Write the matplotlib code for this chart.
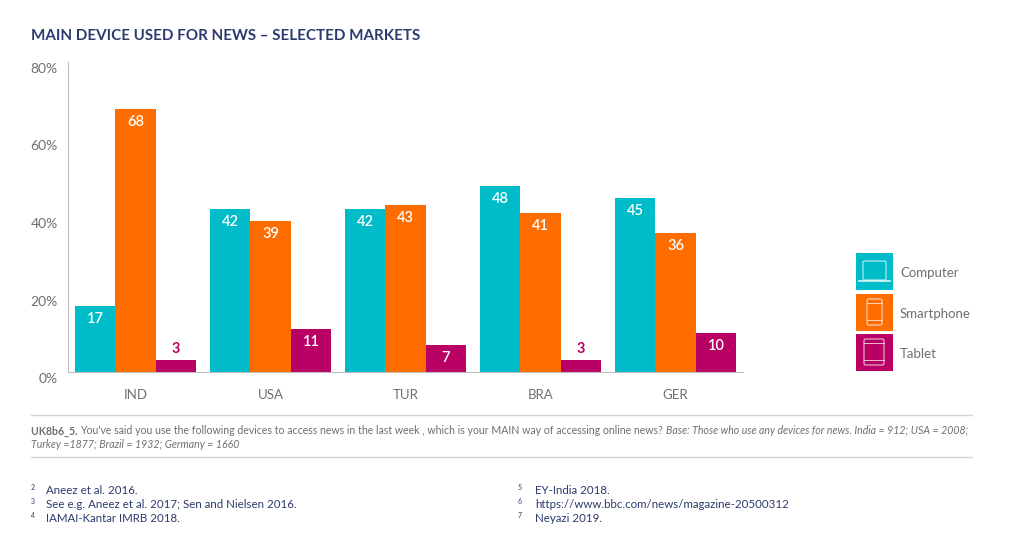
"""Main device used for news, selected markets (bar chart with report footer)."""
import matplotlib
matplotlib.use("Agg")
import matplotlib.pyplot as plt
import numpy as np
from matplotlib.patches import FancyBboxPatch, Rectangle
from matplotlib.transforms import ScaledTranslation

plt.rcParams["font.family"] = ["Lato", "DejaVu Sans"]

markets = ["IND", "USA", "TUR", "BRA", "GER"]
computer = [17, 42, 42, 48, 45]
smartphone = [68, 39, 43, 41, 36]
tablet = [3, 11, 7, 3, 10]
series_names = ["Computer", "Smartphone", "Tablet"]
yticks = [0, 20, 40, 60, 80]
notes_left = [("2", "Aneez et al. 2016."),
              ("3", "See e.g. Aneez et al. 2017; Sen and Nielsen 2016."),
              ("4", "IAMAI-Kantar IMRB 2018.")]
notes_right = [("5", "EY-India 2018."),
               ("6", "https://www.bbc.com/news/magazine-20500312"),
               ("7", "Neyazi 2019.")]

CYAN, ORANGE, PURPLE = "#00bcc9", "#ff6c00", "#b90065"
NAVY, GREY = "#2c3a6e", "#6f6f6f"
W, H, DPI = 1024, 543, 100

fig = plt.figure(figsize=(W / DPI, H / DPI), dpi=DPI, facecolor="white")
ax = fig.add_axes([68 / W, 1 - 372 / H, 675 / W, 310 / H])

# ---- bars ---- #
x = np.arange(len(markets))
bw = 0.3
for off, vals, col in zip([-bw, 0, bw], [computer, smartphone, tablet], [CYAN, ORANGE, PURPLE]):
    ax.bar(x + off, vals, bw, color=col, linewidth=0)
    for xi, v in zip(x + off, vals):
        # short bars carry their label above the bar
        inside = v > 5
        ax.annotate(str(v), (xi, v), xytext=(0, -13 if inside else 11), textcoords="offset pixels",
                    ha="center", va="center", color="white" if inside else PURPLE,
                    fontsize=10.5, fontweight="semibold" if inside else "bold")

ax.set_xlim(-0.5, 4.5)
ax.set_ylim(0, 80)
ax.set_xticks(x, markets, fontsize=9.5, color=GREY)
ax.set_yticks(yticks, [f"{t}%" for t in yticks], fontsize=10, color=GREY)
ax.tick_params(length=0, axis="both")
ax.tick_params(axis="x", pad=12.5)
ax.tick_params(axis="y", pad=7.5)
# y labels sit a few px under their real position in the original
for lab in ax.get_yticklabels():
    lab.set_transform(lab.get_transform() + ScaledTranslation(0, -6 / DPI, fig.dpi_scale_trans))
for s in ["top", "right"]:
    ax.spines[s].set_visible(False)
ax.spines["left"].set_color("#bdbdbd")
ax.spines["bottom"].set_color("#bdbdbd")

# ---- overlay in pixel coords: title, legend, footer ---- #
ov = fig.add_axes([0, 0, 1, 1], zorder=5)
ov.set_xlim(0, W)
ov.set_ylim(H, 0)
ov.axis("off")
ov.patch.set_alpha(0)

ov.text(31, 35.5, "MAIN DEVICE USED FOR NEWS – SELECTED MARKETS", color=NAVY,
        fontsize=10.9, fontweight="bold", va="center")

# legend squares with outline device icons
tops = [253, 294, 334]
for top, col, name in zip(tops, [CYAN, ORANGE, PURPLE], series_names):
    ov.add_patch(Rectangle((856, top), 37, 37, fc=col, ec="none"))
    ov.text(900, top + 20, name, color=GREY, fontsize=9.5, va="center")


def icon(x0, y0, w, h):
    ov.add_patch(FancyBboxPatch((x0, y0), w, h, boxstyle="round,pad=0,rounding_size=1.5",
                                fc="none", ec="white", lw=0.7, alpha=0.85))


icon(863, 261, 23, 19)
ov.plot([859, 890], [281, 281], color="white", lw=1.2, alpha=0.85)
icon(867, 299, 15, 26)
ov.plot([867, 882], [303, 303], color="white", lw=0.6, alpha=0.85)
ov.plot([867, 882], [320, 320], color="white", lw=0.6, alpha=0.85)
icon(864, 339, 20, 26)
ov.plot([864, 884], [343, 343], color="white", lw=0.6, alpha=0.85)
ov.plot([864, 884], [360, 360], color="white", lw=0.6, alpha=0.85)

# footer
for y in [415, 457]:
    ov.plot([31, 972], [y, y], color="#d6d6d6", lw=1)


def chain(x0, y, parts):
    """Lay text runs end to end on one baseline, measuring each one."""
    r = fig.canvas.get_renderer()
    for txt, kw in parts:
        t = ov.text(x0, y, txt, color=GREY, fontsize=7.6, va="center", **kw)
        x0 = t.get_window_extent(r).x1


chain(31, 431, [("UK8b6_5. ", dict(fontweight="bold")),
                ("You've said you use the following devices to access news in the last week , "
                 "which is your MAIN way of accessing online news? ", {}),
                ("Base: Those who use any devices for news. India = 912; USA = 2008;",
                 dict(style="italic"))])
chain(31, 444, [("Turkey =1877; Brazil = 1932; Germany = 1660", dict(style="italic"))])

for (sx, tx), notes in zip([(31, 46), (518, 535)], [notes_left, notes_right]):
    for y, (num, txt) in zip([490, 504, 518], notes):
        ov.text(sx, y - 3, num, color=NAVY, fontsize=5, va="center")
        ov.text(tx, y, txt, color=NAVY, fontsize=8.3, va="center")

fig.savefig("out.png", dpi=DPI, facecolor="white")
